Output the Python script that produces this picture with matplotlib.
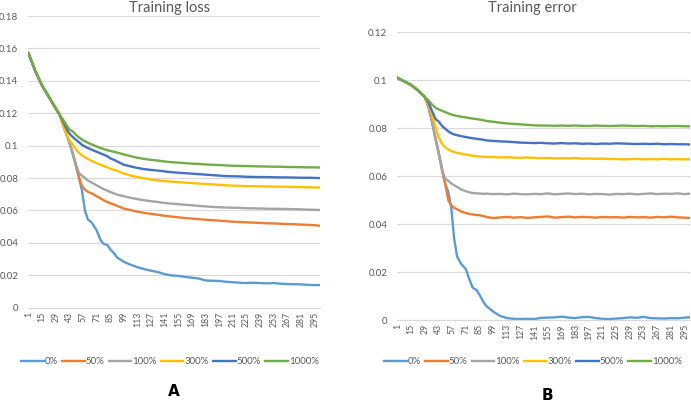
import matplotlib
matplotlib.use("Agg")
import matplotlib.pyplot as plt

plt.rcParams['font.family'] = ['Lato', 'DejaVu Sans']

epochs = [1, 8, 15, 22, 29, 33, 36, 40, 43, 47, 50, 53, 56, 59, 62, 66, 71, 75, 78, 82, 85, 89, 92, 99,
          106, 113, 120, 127, 134, 141, 148, 155, 162, 169, 176, 183, 190, 197, 204, 211, 218, 225, 232,
          239, 246, 253, 260, 267, 274, 281, 288, 295, 300]

series_names = ["0%", "50%", "100%", "300%", "500%", "1000%"]
series_colors = ["#5B9BD5", "#ED7D31", "#A5A5A5", "#FFC000", "#4472C4", "#70AD47"]

# ---------- Training loss (panel A) ----------
loss_0 = [0.157, 0.146, 0.137, 0.130, 0.123, 0.119, 0.114, 0.107, 0.102, 0.094, 0.087, 0.080, 0.072, 0.060,
          0.0545, 0.0525, 0.0478, 0.0417, 0.0395, 0.0386, 0.036, 0.0335, 0.031, 0.0283,
          0.0265, 0.025, 0.0238, 0.0228, 0.022, 0.0207, 0.0199, 0.0196, 0.0190, 0.0185, 0.0180, 0.0168,
          0.0166, 0.0165, 0.0160, 0.0157, 0.0154, 0.0152, 0.0154, 0.0152, 0.0150, 0.0152, 0.0148, 0.0146,
          0.0145, 0.0144, 0.0141, 0.0139, 0.0140]
loss_50 = [0.157, 0.146, 0.137, 0.130, 0.123, 0.119, 0.114, 0.107, 0.102, 0.094, 0.087, 0.080, 0.075, 0.0728,
           0.0715, 0.0705, 0.0688, 0.0675, 0.0663, 0.0652, 0.0645, 0.0636, 0.0628, 0.0612,
           0.0602, 0.0592, 0.0585, 0.0579, 0.0573, 0.0567, 0.0562, 0.0558, 0.0553, 0.0550, 0.0546, 0.0543,
           0.0540, 0.0537, 0.0534, 0.0531, 0.0529, 0.0527, 0.0525, 0.0523, 0.0521, 0.0520, 0.0518, 0.0516,
           0.0515, 0.0513, 0.0511, 0.0509, 0.0506]
loss_100 = [0.157, 0.146, 0.137, 0.130, 0.123, 0.119, 0.114, 0.107, 0.102, 0.094, 0.088, 0.083, 0.0815, 0.080,
            0.0785, 0.0772, 0.0755, 0.0742, 0.0732, 0.0722, 0.0714, 0.0705, 0.0698, 0.0688,
            0.0678, 0.0670, 0.0663, 0.0657, 0.0652, 0.0646, 0.0642, 0.0639, 0.0635, 0.0632, 0.0628, 0.0625,
            0.0622, 0.0620, 0.0618, 0.0617, 0.0616, 0.0614, 0.0613, 0.0612, 0.0611, 0.0610, 0.0610, 0.0609,
            0.0608, 0.0607, 0.0605, 0.0604, 0.0603]
loss_300 = [0.157, 0.146, 0.137, 0.130, 0.123, 0.119, 0.113, 0.107, 0.1035, 0.100, 0.0975, 0.0955, 0.094, 0.0928,
            0.0918, 0.0905, 0.0892, 0.0882, 0.0875, 0.0866, 0.0858, 0.0850, 0.0845, 0.0828,
            0.0815, 0.0806, 0.0798, 0.0791, 0.0786, 0.0781, 0.0778, 0.0775, 0.0772, 0.0769, 0.0766, 0.0763,
            0.0761, 0.0758, 0.0755, 0.0753, 0.0752, 0.0750, 0.0750, 0.0749, 0.0748, 0.0747, 0.0747, 0.0746,
            0.0745, 0.0744, 0.0743, 0.0742, 0.0741]
loss_500 = [0.157, 0.146, 0.137, 0.130, 0.123, 0.119, 0.1155, 0.1105, 0.1075, 0.105, 0.1035, 0.102, 0.1005, 0.0995,
            0.0985, 0.0975, 0.0962, 0.0952, 0.0945, 0.0935, 0.0922, 0.0912, 0.0903, 0.0882,
            0.0872, 0.0862, 0.0855, 0.0850, 0.0846, 0.0841, 0.0836, 0.0833, 0.0830, 0.0827, 0.0824, 0.0821,
            0.0818, 0.0815, 0.0812, 0.0811, 0.0810, 0.0808, 0.0807, 0.0806, 0.0806, 0.0805, 0.0804, 0.0804,
            0.0803, 0.0802, 0.0802, 0.0801, 0.0800]
loss_1000 = [0.157, 0.146, 0.137, 0.130, 0.123, 0.119, 0.1165, 0.1128, 0.110, 0.1085, 0.1065, 0.105, 0.1038, 0.1027,
             0.1018, 0.1008, 0.0995, 0.0985, 0.0980, 0.0972, 0.0968, 0.0962, 0.0957, 0.0946,
             0.0935, 0.0925, 0.0918, 0.0912, 0.0908, 0.0902, 0.0898, 0.0895, 0.0892, 0.0889, 0.0887, 0.0884,
             0.0882, 0.0880, 0.0878, 0.0876, 0.0875, 0.0874, 0.0873, 0.0872, 0.0871, 0.0870, 0.0870, 0.0868,
             0.0868, 0.0867, 0.0866, 0.0866, 0.0865]

# ---------- Training error (panel B) ----------
err_0 = [0.101, 0.0995, 0.098, 0.0958, 0.093, 0.0885, 0.0835, 0.0755, 0.0700, 0.0620, 0.0565, 0.0535, 0.047, 0.034,
         0.0265, 0.0235, 0.0212, 0.0165, 0.0135, 0.0125, 0.0105, 0.0075, 0.0058, 0.0035,
         0.0017, 0.0008, 0.0005, 0.0004, 0.0005, 0.0004, 0.0009, 0.0010, 0.0011, 0.0014, 0.0010, 0.0008,
         0.0012, 0.0013, 0.0008, 0.0005, 0.0004, 0.0006, 0.0008, 0.0011, 0.0009, 0.0013, 0.0008, 0.0007,
         0.0006, 0.0008, 0.0007, 0.0010, 0.0011]
err_50 = [0.101, 0.0995, 0.098, 0.0958, 0.093, 0.0885, 0.0835, 0.0755, 0.0700, 0.0620, 0.0565, 0.0500, 0.0478, 0.0468,
          0.0462, 0.0453, 0.0446, 0.0442, 0.0440, 0.0438, 0.0437, 0.0433, 0.0430, 0.0425,
          0.0428, 0.0430, 0.0427, 0.0429, 0.0426, 0.0428, 0.0430, 0.0432, 0.0427, 0.0429, 0.0431, 0.0428,
          0.0430, 0.0429, 0.0427, 0.0430, 0.0428, 0.0429, 0.0427, 0.0430, 0.0428, 0.0429, 0.0427, 0.0430,
          0.0428, 0.0431, 0.0428, 0.0427, 0.0425]
err_100 = [0.101, 0.0995, 0.098, 0.0958, 0.093, 0.0885, 0.0835, 0.0755, 0.0700, 0.0620, 0.0590, 0.0580, 0.0570, 0.0562,
           0.0555, 0.0545, 0.0537, 0.0532, 0.0530, 0.0528, 0.0528, 0.0526, 0.0527, 0.0525,
           0.0526, 0.0524, 0.0527, 0.0525, 0.0524, 0.0526, 0.0525, 0.0528, 0.0524, 0.0526, 0.0528, 0.0525,
           0.0527, 0.0524, 0.0526, 0.0525, 0.0523, 0.0526, 0.0525, 0.0527, 0.0524, 0.0526, 0.0528, 0.0525,
           0.0527, 0.0526, 0.0528, 0.0525, 0.0527]
err_300 = [0.101, 0.0995, 0.098, 0.0958, 0.093, 0.0895, 0.0860, 0.0805, 0.0762, 0.0733, 0.0720, 0.0711, 0.0705, 0.0700,
           0.0697, 0.0694, 0.0690, 0.0687, 0.0685, 0.0683, 0.0682, 0.0681, 0.0680, 0.0680,
           0.0678, 0.0679, 0.0677, 0.0676, 0.0678, 0.0676, 0.0675, 0.0676, 0.0674, 0.0675, 0.0674, 0.0676,
           0.0673, 0.0674, 0.0672, 0.0673, 0.0671, 0.0672, 0.0670, 0.0671, 0.0672, 0.0670, 0.0671, 0.0670,
           0.0672, 0.0670, 0.0671, 0.0670, 0.0670]
err_500 = [0.101, 0.0995, 0.098, 0.0958, 0.093, 0.0905, 0.0875, 0.0838, 0.0828, 0.0808, 0.0797, 0.0787, 0.0779, 0.0774,
           0.0771, 0.0767, 0.0763, 0.0760, 0.0758, 0.0756, 0.0754, 0.0752, 0.0749, 0.0747,
           0.0745, 0.0744, 0.0742, 0.0740, 0.0739, 0.0738, 0.0739, 0.0737, 0.0736, 0.0738, 0.0736, 0.0737,
           0.0735, 0.0736, 0.0734, 0.0736, 0.0735, 0.0737, 0.0736, 0.0735, 0.0734, 0.0735, 0.0734, 0.0735,
           0.0733, 0.0734, 0.0733, 0.0733, 0.0732]
err_1000 = [0.101, 0.0995, 0.098, 0.0958, 0.093, 0.0915, 0.0900, 0.0885, 0.0879, 0.0872, 0.0867, 0.0862, 0.0857, 0.0854,
            0.0851, 0.0848, 0.0845, 0.0842, 0.0840, 0.0838, 0.0836, 0.0833, 0.0830, 0.0827,
            0.0823, 0.0820, 0.0818, 0.0816, 0.0814, 0.0812, 0.0811, 0.0811, 0.0810, 0.0811, 0.0810, 0.0811,
            0.0810, 0.0809, 0.0811, 0.0810, 0.0809, 0.0810, 0.0811, 0.0810, 0.0809, 0.0810, 0.0808, 0.0809,
            0.0808, 0.0809, 0.0809, 0.0808, 0.0808]

xtick_labels = [str(v) for v in range(1, 296, 14)]

loss_ticks = [0, 0.02, 0.04, 0.06, 0.08, 0.1, 0.12, 0.14, 0.16, 0.18]
loss_tick_labels = ["0", "0.02", "0.04", "0.06", "0.08", "0.1", "0.12", "0.14", "0.16", "0.18"]
err_ticks = [0, 0.02, 0.04, 0.06, 0.08, 0.1, 0.12]
err_tick_labels = ["0", "0.02", "0.04", "0.06", "0.08", "0.1", "0.12"]

W, H = 691, 403
fig = plt.figure(figsize=(W / 100, H / 100), dpi=100)

TXT = "#595959"
GRID = "#D9D9D9"


def make_panel(rect, data, yticks, ylabels, title, title_xy, legend_xy, letter, letter_xy):
    ax = fig.add_axes(rect)
    for vals, name, col in zip(data, series_names, series_colors):
        ax.plot(epochs, vals, color=col, lw=1.7, label=name, solid_joinstyle="round")
    ax.set_xlim(0.5, 300.5)
    ax.set_ylim(yticks[0], yticks[-1])
    ax.set_yticks(yticks)
    ax.set_yticklabels(ylabels)
    ax.set_xticks(list(range(1, 296, 14)))
    ax.set_xticklabels(xtick_labels, rotation=90)
    ax.tick_params(axis="x", length=0, labelsize=6.3, colors=TXT, pad=3)
    ax.tick_params(axis="y", length=0, labelsize=7, colors=TXT, pad=7)
    ax.grid(axis="y", color=GRID, lw=0.8)
    ax.set_axisbelow(True)
    for s in ["top", "right", "left"]:
        ax.spines[s].set_visible(False)
    ax.spines["bottom"].set_color(GRID)
    ax.spines["bottom"].set_linewidth(0.8)
    fig.text(title_xy[0] / W, 1 - title_xy[1] / H, title, ha="center", va="center",
             fontsize=10.5, color=TXT)
    handles, labels = ax.get_legend_handles_labels()
    fig.legend(handles, labels, loc="center", bbox_to_anchor=(legend_xy[0] / W, 1 - legend_xy[1] / H),
               ncol=6, frameon=False, fontsize=7, labelcolor=TXT, handlelength=2.3,
               handletextpad=0.12, columnspacing=0.45, borderpad=0, borderaxespad=0)
    fig.text(letter_xy[0] / W, 1 - letter_xy[1] / H, letter, ha="center", va="center",
             fontsize=11, fontweight="bold", color="black", family=["DejaVu Sans"])
    return ax


make_panel([28 / W, 1 - 307.7 / H, 292 / W, (307.7 - 16) / H],
           [loss_0, loss_50, loss_100, loss_300, loss_500, loss_1000],
           loss_ticks, loss_tick_labels, "Training loss", (170, 8), (170, 362), "A", (174, 391))

make_panel([397 / W, 1 - 320 / H, 293 / W, (320 - 32.3) / H],
           [err_0, err_50, err_100, err_300, err_500, err_1000],
           err_ticks, err_tick_labels, "Training error", (532, 8), (533, 362), "B", (547, 395))

fig.savefig("out.png", dpi=100)
